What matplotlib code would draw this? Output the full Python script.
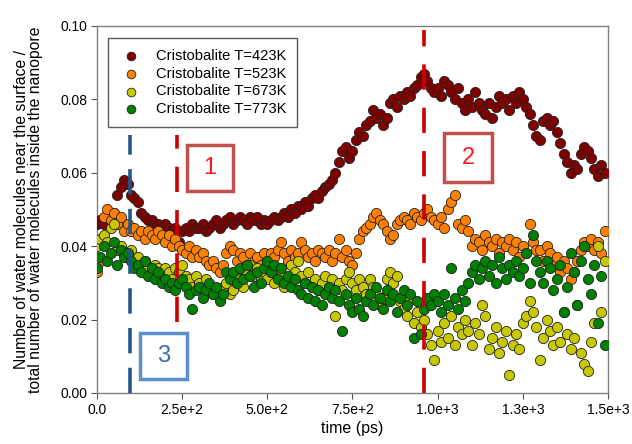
import numpy as np
import matplotlib
matplotlib.use("Agg")
import matplotlib.pyplot as plt
from matplotlib.patches import Rectangle

plt.rcParams['font.family'] = ['Liberation Sans', 'DejaVu Sans']

# time grid (ps), one sample every 10 ps
time_ps = np.arange(0, 1500, 10)

t423 = [0.046, 0.047, 0.046, 0.048, 0.047, 0.049, 0.054, 0.056, 0.058, 0.057,
        0.054, 0.053, 0.052, 0.049, 0.048, 0.047, 0.047, 0.046, 0.046, 0.045,
        0.046, 0.045, 0.044, 0.045, 0.041, 0.044, 0.045, 0.044, 0.046, 0.045,
        0.045, 0.046, 0.044, 0.045, 0.046, 0.047, 0.045, 0.046, 0.047, 0.048,
        0.046, 0.047, 0.048, 0.047, 0.046, 0.048, 0.047, 0.048, 0.046, 0.047,
        0.046, 0.047, 0.048, 0.047, 0.048, 0.049, 0.048, 0.050, 0.049, 0.051,
        0.050, 0.052, 0.051, 0.053, 0.054, 0.053, 0.055, 0.056, 0.057, 0.058,
        0.060, 0.063, 0.066, 0.067, 0.064, 0.066, 0.069, 0.071, 0.070, 0.073,
        0.074, 0.077, 0.075, 0.076, 0.073, 0.075, 0.079, 0.080, 0.078, 0.081,
        0.080, 0.082, 0.081, 0.083, 0.084, 0.086, 0.087, 0.085, 0.083, 0.082,
        0.083, 0.081, 0.085, 0.084, 0.082, 0.080, 0.083, 0.079, 0.077, 0.080,
        0.078, 0.082, 0.079, 0.077, 0.076, 0.079, 0.075, 0.078, 0.081, 0.079,
        0.080, 0.077, 0.081, 0.079, 0.082, 0.080, 0.078, 0.076, 0.073, 0.070,
        0.069, 0.074, 0.075, 0.073, 0.074, 0.071, 0.068, 0.065, 0.063, 0.060,
        0.062, 0.061, 0.065, 0.067, 0.066, 0.064, 0.061, 0.059, 0.062, 0.060]

t523 = [0.033, 0.036, 0.048, 0.050, 0.047, 0.049, 0.046, 0.048, 0.044, 0.046,
        0.044, 0.045, 0.043, 0.044, 0.042, 0.044, 0.043, 0.042, 0.044, 0.043,
        0.041, 0.043, 0.040, 0.042, 0.040, 0.039, 0.038, 0.040, 0.037, 0.039,
        0.037, 0.038, 0.036, 0.035, 0.036, 0.034, 0.033, 0.035, 0.038, 0.040,
        0.039, 0.036, 0.038, 0.037, 0.035, 0.038, 0.036, 0.037, 0.035, 0.038,
        0.036, 0.038, 0.037, 0.039, 0.041, 0.038, 0.036, 0.039, 0.037, 0.038,
        0.041, 0.039, 0.037, 0.038, 0.036, 0.039, 0.038, 0.037, 0.039, 0.036,
        0.038, 0.042, 0.037, 0.039, 0.036, 0.035, 0.038, 0.042, 0.044, 0.045,
        0.046, 0.048, 0.049, 0.047, 0.046, 0.044, 0.042, 0.043, 0.046, 0.047,
        0.048, 0.047, 0.046, 0.049, 0.048, 0.047, 0.049, 0.050, 0.048, 0.047,
        0.046, 0.048, 0.045, 0.050, 0.052, 0.054, 0.046, 0.045, 0.047, 0.044,
        0.040, 0.042, 0.041, 0.039, 0.043, 0.041, 0.040, 0.042, 0.038, 0.041,
        0.040, 0.042, 0.039, 0.041, 0.037, 0.040, 0.038, 0.046, 0.041, 0.039,
        0.039, 0.036, 0.040, 0.038, 0.035, 0.037, 0.033, 0.036, 0.034, 0.031,
        0.033, 0.036, 0.039, 0.041, 0.040, 0.042, 0.039, 0.041, 0.038, 0.044]

t673 = [0.040, 0.042, 0.043, 0.041, 0.045, 0.046, 0.039, 0.040, 0.038, 0.037,
        0.039, 0.036, 0.037, 0.035, 0.036, 0.034, 0.033, 0.035, 0.034, 0.032,
        0.034, 0.033, 0.031, 0.034, 0.033, 0.035, 0.032, 0.031, 0.029, 0.032,
        0.030, 0.028, 0.031, 0.029, 0.027, 0.028, 0.026, 0.029, 0.030, 0.027,
        0.028, 0.030, 0.031, 0.029, 0.033, 0.035, 0.032, 0.034, 0.031, 0.033,
        0.031, 0.033, 0.030, 0.034, 0.032, 0.029, 0.031, 0.035, 0.033, 0.036,
        0.032, 0.030, 0.033, 0.029, 0.031, 0.028, 0.030, 0.032, 0.029, 0.031,
        0.021, 0.030, 0.028, 0.031, 0.033, 0.030, 0.028, 0.031, 0.029, 0.027,
        0.031, 0.029, 0.027, 0.024, 0.026, 0.031, 0.033, 0.030, 0.032, 0.025,
        0.023, 0.021, 0.026, 0.019, 0.022, 0.018, 0.020, 0.016, 0.013, 0.009,
        0.017, 0.014, 0.019, 0.015, 0.021, 0.013, 0.018, 0.016, 0.020, 0.017,
        0.013, 0.019, 0.016, 0.024, 0.021, 0.012, 0.015, 0.018, 0.011, 0.014,
        0.017, 0.005, 0.013, 0.016, 0.012, 0.019, 0.021, 0.025, 0.022, 0.018,
        0.009, 0.015, 0.020, 0.017, 0.013, 0.018, 0.014, 0.022, 0.016, 0.012,
        0.015, 0.024, 0.011, 0.008, 0.006, 0.014, 0.019, 0.040, 0.022, 0.036]

t773 = [0.034, 0.037, 0.040, 0.036, 0.038, 0.041, 0.035, 0.039, 0.037, 0.038,
        0.036, 0.034, 0.035, 0.033, 0.036, 0.032, 0.034, 0.031, 0.033, 0.030,
        0.031, 0.029, 0.030, 0.028, 0.030, 0.031, 0.029, 0.027, 0.023, 0.028,
        0.029, 0.026, 0.028, 0.030, 0.027, 0.029, 0.025, 0.027, 0.033, 0.031,
        0.033, 0.030, 0.034, 0.031, 0.035, 0.032, 0.029, 0.033, 0.030, 0.034,
        0.036, 0.033, 0.035, 0.031, 0.034, 0.030, 0.032, 0.029, 0.031, 0.028,
        0.027, 0.030, 0.026, 0.029, 0.025, 0.028, 0.024, 0.027, 0.029, 0.026,
        0.028, 0.025, 0.017, 0.027, 0.024, 0.022, 0.026, 0.023, 0.021, 0.025,
        0.027, 0.024, 0.029, 0.026, 0.023, 0.028, 0.025, 0.027, 0.022, 0.026,
        0.028, 0.024, 0.027, 0.015, 0.025, 0.016, 0.023, 0.026, 0.024, 0.027,
        0.025, 0.022, 0.027, 0.024, 0.034, 0.026, 0.023, 0.028, 0.025, 0.030,
        0.033, 0.035, 0.031, 0.034, 0.036, 0.032, 0.035, 0.030, 0.037, 0.034,
        0.031, 0.035, 0.033, 0.036, 0.032, 0.034, 0.038, 0.030, 0.043, 0.036,
        0.033, 0.030, 0.036, 0.034, 0.028, 0.031, 0.035, 0.022, 0.029, 0.038,
        0.033, 0.024, 0.036, 0.040, 0.031, 0.027, 0.035, 0.019, 0.032, 0.013]

series = [
    ("Cristobalite T=423K", t423, "#800000"),
    ("Cristobalite T=523K", t523, "#ff8000"),
    ("Cristobalite T=673K", t673, "#c8c800"),
    ("Cristobalite T=773K", t773, "#008000"),
]

xticks = [0, 250, 500, 750, 1000, 1250, 1500]
xtick_labels = ["0.0", "2.5e+2", "5.0e+2", "7.5e+2", "1.0e+3", "1.3e+3", "1.5e+3"]

fig = plt.figure(figsize=(6.32, 4.44), dpi=100)
ax = fig.add_axes([0.1535, 0.115, 0.8085, 0.8265])

for name, vals, col in series:
    ax.scatter(time_ps, vals, s=54, c=col, edgecolors="#222222", linewidths=0.6,
               label=name, zorder=3)

# dashed marker lines
ax.plot([97, 97], [0, 0.0703], color="#24558a", lw=2.6, dashes=(7, 4), zorder=4)
ax.plot([234, 234], [0.0193, 0.0703], color="#cc0000", lw=2.6, dashes=(7, 5), zorder=4)
ax.plot([959, 959], [0, 0.099], color="#cc0000", lw=2.6, dashes=(7, 5), zorder=4)

# numbered boxes
boxes = [("1", 265, 0.055, 135, 0.0126, "#c0504d", "#ff1a1a"),
         ("2", 1020, 0.0575, 139, 0.0133, "#c0504d", "#ff1a1a"),
         ("3", 126, 0.0038, 139, 0.0125, "#5b8fd0", "#3f6aa8")]
for lab, x0, y0, w, h, ec, tc in boxes:
    ax.add_patch(Rectangle((x0, y0), w, h, fill=True, facecolor="white",
                           edgecolor=ec, lw=2.5, zorder=5))
    ax.text(x0 + w / 2, y0 + h / 2, lab, color=tc, fontsize=17,
            ha="center", va="center", zorder=6)

ax.set_xlim(0, 1500)
ax.set_ylim(0, 0.1)
ax.set_xticks(xticks)
ax.set_xticklabels(xtick_labels)
ax.set_yticks([0, 0.02, 0.04, 0.06, 0.08, 0.10])
ax.set_yticklabels(["0.00", "0.02", "0.04", "0.06", "0.08", "0.10"])
ax.tick_params(direction="out", length=4, width=0.8, color="#555555",
               labelsize=10, pad=3)
for sp in ax.spines.values():
    sp.set_color("#808080")
    sp.set_linewidth(1.0)

ax.set_xlabel("time (ps)", fontsize=11.5, labelpad=3)
ax.set_ylabel("Number of water molecules near the surface /\n"
              "total number of water molecules inside the nanopore",
              fontsize=11.3, labelpad=12, linespacing=0.95)

leg = ax.legend(loc="upper left", bbox_to_anchor=(0.0216, 0.967), borderaxespad=0,
                fontsize=10.6, frameon=True, fancybox=False, edgecolor="#333333",
                handletextpad=0.9, handlelength=1.6, borderpad=0.75,
                labelspacing=0.25, scatterpoints=1, markerscale=0.85)
leg.get_frame().set_linewidth(1.0)
leg.set_zorder(7)

fig.savefig("out.png", dpi=100)
